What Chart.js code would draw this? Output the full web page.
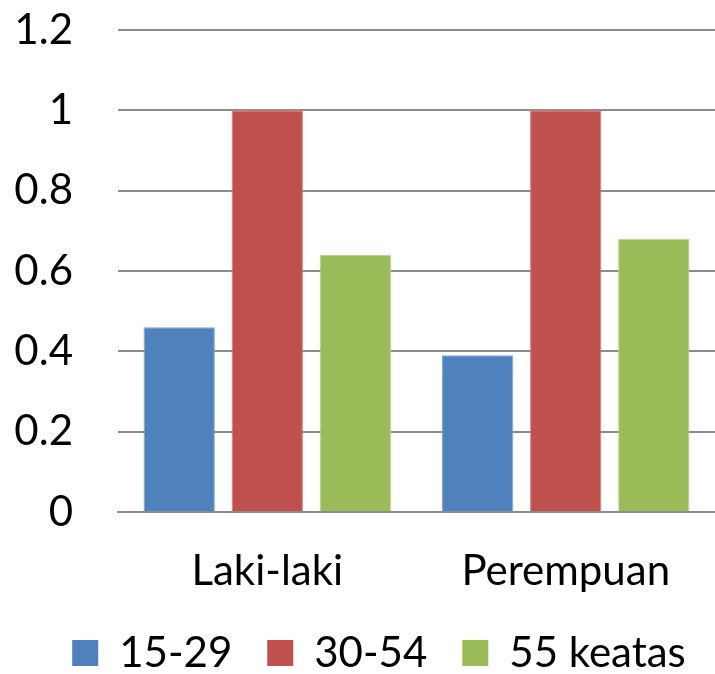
<!DOCTYPE html>
<html>
<head>
<meta charset="utf-8">
<title>Kelompok umur</title>
<script src="https://cdn.jsdelivr.net/npm/chart.js@4"></script>
<style>
  html, body { margin: 0; padding: 0; background: #ffffff; }
  #wrap { width: 715px; height: 674px; }
</style>
</head>
<body>
<div id="wrap"><canvas id="chart" width="715" height="674"></canvas></div>
<script>
// Categories and series values
const categories = ['Laki-laki', 'Perempuan'];
const seriesNames = ['15-29', '30-54', '55 keatas'];
const values1529 = [0.46, 0.39];
const values3054 = [1.0, 1.0];
const values55 = [0.64, 0.68];
const yTickLabels = ['0', '0.2', '0.4', '0.6', '0.8', '1', '1.2'];

const FONT = 'Lato';
const FONT_SIZE = 42;
const GRID = '#8c8c8c';

// Nudges the legend row right and slightly up within the footer
const legendOffset = {
  id: 'legendOffset',
  afterLayout(chart) {
    const lg = chart.legend;
    if (lg) {
      lg.left += 19; lg.right += 19;
      lg.top -= 5; lg.bottom -= 5;
    }
  }
};

function draw() {
  Chart.defaults.font.family = FONT;
  Chart.defaults.font.size = FONT_SIZE;
  Chart.defaults.color = '#000000';

  const mk = (label, data, fill, edge) => ({
    label, data,
    backgroundColor: fill,
    borderColor: edge,
    borderWidth: 1,
    categoryPercentage: 0.885,
    barPercentage: 0.81
  });

  new Chart(document.getElementById('chart'), {
    type: 'bar',
    data: {
      labels: categories,
      datasets: [
        mk(seriesNames[0], values1529, '#4f81bd', '#7fa3d3'),
        mk(seriesNames[1], values3054, '#c0504d', '#d27a77'),
        mk(seriesNames[2], values55, '#9bbb59', '#bcd38c')
      ]
    },
    options: {
      responsive: false,
      animation: false,
      devicePixelRatio: 1,
      layout: { padding: { top: 0, left: 0, right: -5, bottom: -15 } },
      plugins: {
        tooltip: { enabled: false },
        legend: {
          position: 'bottom',
          labels: {
            boxWidth: 26,
            boxHeight: 26,
            padding: 35,
            color: '#000000',
            font: { family: FONT, size: FONT_SIZE },
            generateLabels(chart) {
              return Chart.defaults.plugins.legend.labels.generateLabels(chart)
                .map(item => Object.assign(item, { lineWidth: 0 }));
            }
          }
        }
      },
      scales: {
        x: {
          grid: { display: false, drawTicks: false },
          border: { display: true, color: GRID, width: 2 },
          ticks: { padding: 34, font: { family: FONT, size: FONT_SIZE }, color: '#000000' },
          afterFit(scale) { scale.height = 90; }
        },
        y: {
          min: 0,
          max: 1.2,
          grid: { color: GRID, lineWidth: 2, drawTicks: false },
          border: { display: false },
          ticks: {
            stepSize: 0.2,
            padding: 45,
            color: '#000000',
            font: { family: FONT, size: FONT_SIZE },
            callback(value, index) { return yTickLabels[index]; }
          },
          afterFit(scale) {
            scale.width = 118;
            scale.paddingTop = 30;
            scale.paddingBottom = 0;
          }
        }
      }
    },
    plugins: [legendOffset]
  });
}

if (document.fonts && document.fonts.load) {
  document.fonts.load(FONT_SIZE + 'px ' + FONT).then(draw, draw);
} else {
  draw();
}
</script>
</body>
</html>
